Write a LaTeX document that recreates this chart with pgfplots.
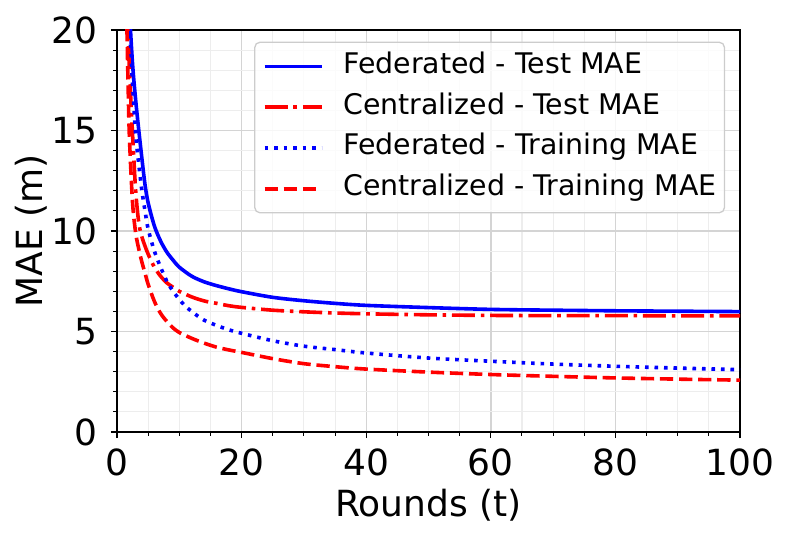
\documentclass[border=0pt]{standalone}
\usepackage{fontspec}
\setmainfont{DejaVu Sans}
\usepackage{pgfplots}
\pgfplotsset{compat=1.18}
\definecolor{mblue}{RGB}{0,0,255}
\definecolor{mred}{RGB}{255,0,0}
\begin{document}
\begin{tikzpicture}
\begin{axis}[
  at={(0,0)}, anchor=south west,
  scale only axis, width=623pt, height=402pt,
  xmin=0, xmax=100, ymin=0, ymax=20,
  xtick={0,20,...,100}, ytick={0,5,...,20},
  minor x tick num=3, minor y tick num=4,
  grid=both,
  major grid style={draw=black!17, line width=1.4pt},
  minor grid style={draw=black!7, line width=1.1pt},
  axis line style={line width=1.4pt, black},
  tick pos=left, tick align=outside,
  major tick length=6pt, minor tick length=3.5pt,
  every tick/.style={black, line width=1.3pt},
  minor tick style={line width=1pt},
  /pgf/number format/assume math mode=true,
  ticklabel style={font=\fontsize{36}{40}\selectfont},
  yticklabel style={anchor=east, inner sep=0pt, xshift=-13.5pt},
  xticklabel style={anchor=north, inner sep=0pt, yshift=-10.5pt},
  label style={font=\fontsize{36}{40}\selectfont},
  xlabel={Rounds (t)},
  ylabel={MAE (m)},
  xlabel style={at={(axis description cs:0.5,-0.2107)}, anchor=base},
  ylabel style={at={(axis description cs:-0.1199,0.5)}, anchor=base, rotate=0},
  legend style={at={(rel axis cs:0.976,0.971)}, anchor=north east,
    draw=black!20, line width=1.3pt, rounded corners=5pt,
    fill=white, fill opacity=0.8, text opacity=1,
    font=\fontsize{28.4}{30}\selectfont,
    inner xsep=8pt, inner ysep=11pt, row sep=14.8pt, column sep=20pt,
    nodes={inner sep=0pt, text height=20pt, text depth=6pt}},
  legend cell align=left,
  legend image code/.code={\draw[#1] (0pt,0pt) -- (57pt,0pt);},
  clip=true,
]
\addplot[mblue, line width=3.6pt, smooth] coordinates {
(1.5,25) (2,21) (2.5,18.3) (3,16.5) (3.5,15.0) (4,13.6) (4.5,12.3) (5,11.4)
(6,10.25) (7,9.5) (8,8.95) (9,8.55) (10,8.2) (12,7.75) (14,7.47) (16,7.28)
(18,7.12) (20,6.98) (25,6.7) (30,6.53) (35,6.4) (40,6.3) (50,6.19) (60,6.1)
(70,6.06) (80,6.03) (90,6.01) (100,5.99)};
\addlegendentry{Federated - Test MAE}
\addplot[mred, line width=3.6pt, smooth, line cap=butt, dash pattern=on 23pt off 5.8pt on 3.6pt off 5.8pt] coordinates {
(1.5,23) (1.75,20) (2,18.0) (2.5,14.8) (3,12.0) (3.5,10.4) (4,9.7) (4.5,9.25)
(5,8.85) (6,8.2) (7,7.75) (8,7.42) (9,7.2) (10,7.0) (12,6.72) (14,6.52)
(16,6.4) (18,6.28) (20,6.2) (25,6.06) (30,5.98) (35,5.92) (40,5.88) (50,5.83)
(60,5.8) (70,5.79) (80,5.79) (90,5.78) (100,5.78)};
\addlegendentry{Centralized - Test MAE}
\addplot[mblue, line width=3.6pt, smooth, line cap=butt, dash pattern=on 3.6pt off 5.9pt] coordinates {
(1.5,24) (2,20.3) (2.5,17.3) (3,14.8) (3.5,13.3) (4,12.0) (4.5,11.0) (5,10.1)
(6,9.0) (7,8.2) (8,7.5) (9,7.0) (10,6.6) (11,6.25) (12,6.0) (13,5.76) (14,5.56)
(16,5.3) (18,5.08) (20,4.91) (25,4.54) (30,4.27) (35,4.1) (40,3.93) (50,3.68)
(60,3.52) (70,3.38) (80,3.27) (90,3.18) (100,3.1)};
\addlegendentry{Federated - Training MAE}
\addplot[mred, line width=3.6pt, smooth, line cap=butt, dash pattern=on 13.3pt off 5.8pt] coordinates {
(1.5,22) (1.6,20) (1.8,17) (2,14.6) (2.5,11.4) (3,9.9) (3.5,9.1) (4,8.45)
(4.5,7.9) (5,7.35) (6,6.5) (7,5.9) (8,5.5) (9,5.18) (10,4.95) (12,4.66)
(14,4.42) (16,4.22) (18,4.08) (20,3.96) (25,3.65) (30,3.4) (35,3.25) (40,3.13)
(50,2.98) (60,2.86) (70,2.77) (80,2.69) (90,2.63) (100,2.58)};
\addlegendentry{Centralized - Training MAE}
\end{axis}
\pgfresetboundingbox
\path[use as bounding box] (-117pt,-106pt) rectangle (672pt,432pt);
\end{tikzpicture}
\end{document}
